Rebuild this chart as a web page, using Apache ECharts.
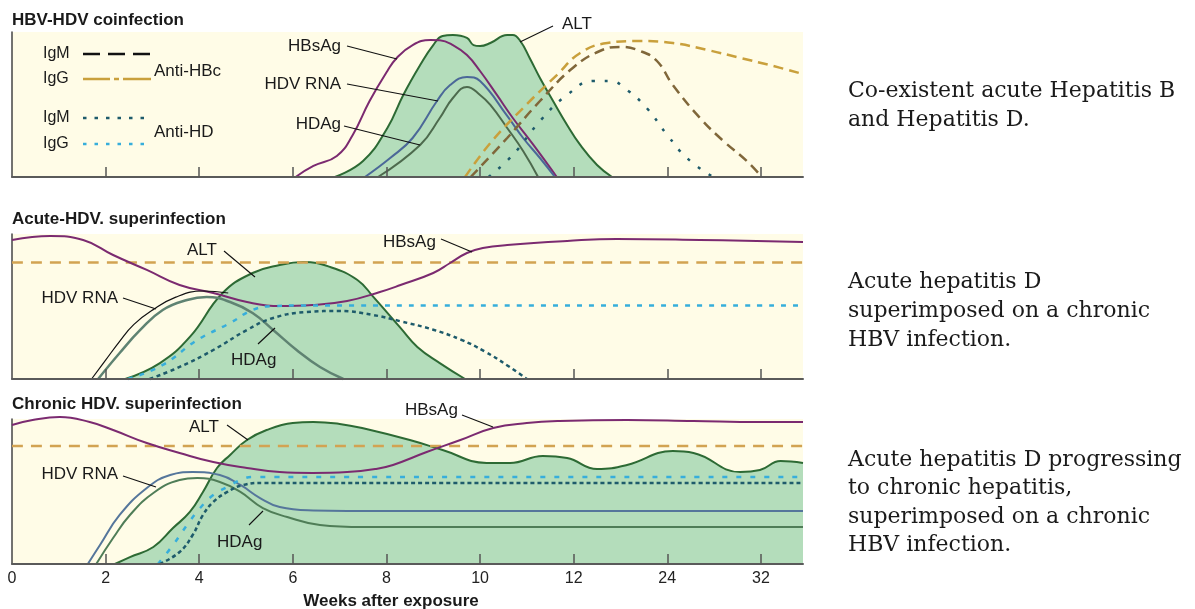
<!DOCTYPE html>
<html>
<head>
<meta charset="utf-8">
<script src="https://cdn.jsdelivr.net/npm/echarts@6/dist/echarts.min.js"></script>
<style>html,body{margin:0;padding:0;background:#fff}#c{width:1195px;height:609px}</style>
</head>
<body>
<div id="c"></div>
<script>
// x values are positions along the axis: one unit per tick label
const xTickLabels = ['0','2','4','6','8','10','12','24','32'];
const xEnd = 8.45;

// Panel 1: HBV-HDV coinfection
const p1ALT = [[3.45,0],[3.75,11],[4.01,33.8],[4.18,56.6],[4.36,77.2],[4.5,91],[4.6,97.2],[4.71,97.9],[4.86,95.9],[4.93,91],[5.0,90.3],[5.11,92.4],[5.29,97.9],[5.35,97.9],[5.43,93.8],[5.53,82.1],[5.64,68.3],[5.78,52.4],[5.93,35.9],[6.07,22.1],[6.25,8.3],[6.41,0]];
const p1HBsAg = [[3.03,0],[3.22,7.6],[3.47,14.5],[3.64,29],[3.82,52.4],[4.01,73.1],[4.11,82.1],[4.28,91],[4.47,94.5],[4.57,94.3],[4.71,91],[4.86,84.1],[5.0,73.1],[5.18,56.6],[5.35,40.7],[5.57,22.1],[5.82,0]];
const p1HDVRNA = [[3.77,0],[4.04,13.1],[4.28,26.9],[4.54,52.4],[4.68,63.4],[4.86,69],[5.0,66.2],[5.29,42.1],[5.46,26.9],[5.64,13.1],[5.8,0]];
const p1HDAg = [[3.91,0],[4.36,22.1],[4.57,40.7],[4.71,54.5],[4.86,62.1],[5.0,56.6],[5.11,49.7],[5.29,33.8],[5.46,17.9],[5.62,0]];
const p1AntiHBcIgG = [[4.84,0],[5.11,23.4],[5.46,47.6],[5.82,70.3],[6.07,85.5],[6.36,92.4],[6.71,93.8],[7.06,92.4],[7.43,87.6],[7.78,82.1],[8.13,76.6],[8.45,71]];
const p1AntiHBcIgM = [[4.9,0],[5.29,26.9],[5.64,52.4],[5.99,75.2],[6.28,86.9],[6.5,89.7],[6.71,86.9],[6.89,80],[7.06,63.4],[7.35,40.7],[7.6,24.8],[7.85,11],[8.01,0]];
const p1AntiHDIgM = [[5.09,0],[5.35,15.2],[5.64,38.6],[5.93,56.6],[6.21,66.2],[6.39,66.2],[6.57,60],[6.78,47.6],[7.0,29],[7.21,13.1],[7.49,0]];

// Panel 2: Acute-HDV superinfection
const p2ALT = [[1.21,0],[1.58,11],[1.9,29],[2.25,59.3],[2.57,73.1],[2.86,78.6],[3.11,80.7],[3.4,77.2],[3.69,68.3],[3.86,56.6],[4.15,35.2],[4.33,22.1],[4.57,11],[4.84,0]];
const p2HBsAg = [[0,95.9],[0.41,98.6],[0.76,95.9],[1.08,85.5],[1.44,75.2],[1.79,64.8],[2.15,59.3],[2.51,53.1],[2.86,50.3],[3.21,51],[3.58,53.8],[3.93,60],[4.15,64.8],[4.5,73.1],[4.68,80],[4.86,86.9],[5.03,90.3],[5.29,92.4],[5.93,95.2],[6.46,96.6],[7.35,95.9],[8.45,94.5]];
const p2HDVRNA = [[0.85,0],[1.0,13],[1.15,26],[1.3,37.5],[1.5,47.5],[1.75,56.5],[2.04,60.7],[2.31,59.3]];
const p2HDAg = [[0.92,0],[1.15,17.9],[1.37,33.8],[1.61,47.6],[1.87,54.5],[2.08,56.6],[2.33,53.1],[2.57,45.5],[2.79,33.8],[3.04,20],[3.29,8.3],[3.54,0]];
const p2AntiHBcIgG = [[0,80.3],[8.45,80.3]];
const p2AntiHDIgG = [[1.24,0],[1.61,9.7],[1.98,26.9],[2.33,38.6],[2.57,47.6],[2.79,50.3],[3.08,50.7],[5,50.7],[8.45,50.7]];
const p2AntiHDIgM = [[1.47,0],[1.79,8.3],[2.15,20],[2.51,33.8],[2.79,42.1],[3.15,46.2],[3.5,46.9],[3.86,44.1],[4.15,39.8],[4.5,34],[4.8,27],[5.05,19],[5.3,9],[5.5,0]];

// Panel 3: Chronic HDV superinfection
const p3ALT = [[1.1,0],[1.26,4.8],[1.51,11.7],[1.72,24.8],[1.9,35.9],[2.04,49.7],[2.19,66.2],[2.33,75.2],[2.51,85.5],[2.72,92.4],[3.0,97.2],[3.22,97.9],[3.5,96.6],[3.74,93.8],[4.25,85.5],[4.6,78.6],[5.07,69.7],[5.32,69.7],[5.67,74.5],[5.93,73.1],[6.25,65.5],[6.57,68.3],[7.06,77.9],[7.28,76.6],[7.78,63.4],[7.99,64.8],[8.21,71],[8.45,69.7]];
const p3HBsAg = [[0,95.9],[0.22,99.3],[0.51,101.4],[0.83,97.9],[1.08,92.4],[1.44,83.4],[1.79,76.6],[2.15,70.3],[2.51,66.2],[2.86,63.4],[3.21,62.8],[3.58,63.4],[3.88,65.5],[4.07,68.3],[4.43,77.2],[4.79,85.5],[5.14,93.8],[5.5,97.2],[5.85,98.6],[6.57,99.3],[7.28,98.6],[7.99,97.9],[8.45,97.9]];
const p3HDVRNA = [[0.81,0],[0.94,13.1],[1.15,33.8],[1.44,52.4],[1.69,61.4],[1.93,63.4],[2.22,61.4],[2.44,54.5],[2.65,45.5],[2.86,39.3],[3.22,36.9],[3.58,36.6],[5.5,36.6],[8.45,36.6]];
const p3HDAg = [[0.9,0],[1.08,17.9],[1.26,33.8],[1.51,49],[1.79,57.9],[1.98,59.3],[2.22,56.6],[2.44,49.7],[2.68,38.6],[2.94,32.4],[3.29,26.9],[3.75,25.5],[5.5,25.5],[8.45,25.5]];
const p3AntiHBcIgG = [[0,81.4],[8.45,81.4]];
const p3AntiHDIgG = [[1.56,0],[1.72,13.1],[1.87,26.9],[2.01,38.6],[2.15,47.6],[2.3,53.1],[2.44,57.9],[2.57,60],[4,60],[8.45,60]];
const p3AntiHDIgM = [[1.58,0],[1.79,8.3],[1.93,20],[2.04,33.8],[2.15,42.8],[2.3,49.7],[2.47,54.5],[2.68,55.9],[4,55.9],[8.45,55.9]];

const C = {
  bg:'#FFFCE7', altFill:'#B4DDBB', altLine:'#2D6A34', purple:'#7B2A70',
  blue:'#4B6898', hdag1:'#4D6A4D', hdag2:'#5F8372', hdag3:'#4F7D57', blue3:'#55769B',
  gold:'#C9A03C', gold2:'#D2A352', brown:'#80673A', teal:'#1E5B6B', lblue:'#37AEDB', text:'#1a1a1a'
};
const SANS = '"Liberation Sans", Arial, sans-serif';
const SERIF = '"DejaVu Serif", serif';

const grids = [
  {left:12, top:32, width:791, height:145},
  {left:12, top:234, width:791, height:145},
  {left:12, top:419, width:791, height:145}
].map(g => Object.assign(g, {show:true, backgroundColor:C.bg, borderWidth:0, containLabel:false}));

const xAxes = [0,1,2].map(i => ({
  type:'value', gridIndex:i, min:0, max:xEnd, interval:1,
  axisLine:{show:true, onZero:false, lineStyle:{color:'#5a5a5a', width:2}},
  axisTick:{show:true, inside:true, length:10, lineStyle:{color:'#555', width:1.5}, customValues:[1,2,3,4,5,6,7,8]},
  axisLabel:{show:i===2, margin:7, fontSize:16, fontFamily:SANS, color:'#222',
    customValues:[0,1,2,3,4,5,6,7,8], formatter:v => xTickLabels[Math.round(v)] || ''},
  splitLine:{show:false}, z:5
}));
const yAxes = [0,1,2].map(i => ({
  type:'value', gridIndex:i, min:0, max:100,
  axisLine:{show:true, lineStyle:{color:'#444', width:1.5}},
  axisTick:{show:false}, axisLabel:{show:false}, splitLine:{show:false}
}));

function ln(grid, data, color, width, type, area) {
  const s = {
    type:'line', xAxisIndex:grid, yAxisIndex:grid, data:data, smooth:0.45,
    symbol:'none', clip:false, silent:true,
    lineStyle:{color:color, width:width, type:type || 'solid'}
  };
  if (area) s.areaStyle = {color:area, opacity:1};
  return s;
}

const series = [
  ln(0, p1ALT, C.altLine, 2, 'solid', C.altFill),
  ln(0, p1HBsAg, C.purple, 2),
  ln(0, p1HDVRNA, C.blue, 2),
  ln(0, p1HDAg, C.hdag1, 2),
  ln(0, p1AntiHBcIgG, C.gold, 2.5, [10,6]),
  ln(0, p1AntiHBcIgM, C.brown, 2.5, [10,6]),
  ln(0, p1AntiHDIgM, C.teal, 2.5, [3,10]),

  ln(1, p2ALT, C.altLine, 2, 'solid', C.altFill),
  ln(1, p2AntiHBcIgG, C.gold2, 2.5, [11,8]),
  ln(1, p2HBsAg, C.purple, 2),
  ln(1, p2HDVRNA, '#111', 1.2),
  ln(1, p2HDAg, C.hdag2, 2.5),
  ln(1, p2AntiHDIgG, C.lblue, 2.5, [5,7]),
  ln(1, p2AntiHDIgM, C.teal, 2.5, [4,3.5]),

  ln(2, p3ALT, C.altLine, 2, 'solid', C.altFill),
  ln(2, p3AntiHBcIgG, C.gold2, 2.5, [11,8]),
  ln(2, p3HBsAg, C.purple, 2),
  ln(2, p3HDVRNA, C.blue3, 2),
  ln(2, p3HDAg, C.hdag3, 2),
  ln(2, p3AntiHDIgG, C.lblue, 2.5, [5,9]),
  ln(2, p3AntiHDIgM, C.teal, 2.5, [4,3])
];

function txt(x, y, s, opt) {
  opt = opt || {};
  return {type:'text', x:x, y:y, z:50, silent:true, style:{
    text:s, font:(opt.bold?'bold ':'') + (opt.size||17) + 'px ' + (opt.family||SANS),
    fill:C.text, align:opt.align||'left', verticalAlign:opt.va||'middle', lineHeight:opt.lh}};
}
function seg(x1, y1, x2, y2, color, w, dash) {
  return {type:'line', z:50, silent:true, shape:{x1:x1,y1:y1,x2:x2,y2:y2},
    style:{stroke:color||'#111', lineWidth:w||1.1, lineDash:dash||null}};
}

const graphic = [
  txt(12, 20, 'HBV-HDV coinfection', {bold:true}),
  txt(12, 219, 'Acute-HDV. superinfection', {bold:true}),
  txt(12, 404, 'Chronic HDV. superinfection', {bold:true}),
  txt(391, 601, 'Weeks after exposure', {bold:true, align:'center'}),

  // legend
  txt(43, 54, 'IgM', {size:16}), seg(83, 54, 150, 54, '#111', 2.5, [17,8]),
  txt(43, 79, 'IgG', {size:16}), seg(83, 79, 151, 79, C.gold, 2.5, [27,4,5,4,28]),
  txt(154, 71, 'Anti-HBc'),
  txt(43, 118, 'IgM', {size:16}), seg(83, 118, 146, 118, C.teal, 2.5, [3.5,8]),
  txt(43, 144, 'IgG', {size:16}), seg(83, 144, 146, 144, C.lblue, 2.5, [3.5,8]),
  txt(154, 132, 'Anti-HD'),

  // panel 1 annotations
  txt(341, 46, 'HBsAg', {align:'right'}), seg(347, 46, 397, 59),
  txt(341, 84, 'HDV RNA', {align:'right'}), seg(347, 84, 438, 101),
  txt(341, 124, 'HDAg', {align:'right'}), seg(344, 126, 420, 145),
  txt(562, 24, 'ALT'), seg(553, 26, 520, 42),

  // panel 2 annotations
  txt(187, 250, 'ALT'), seg(224, 251, 255, 277),
  txt(118, 298, 'HDV RNA', {align:'right'}), seg(123, 298, 156, 309),
  txt(231, 360, 'HDAg'), seg(258, 344, 275, 328),
  txt(383, 242, 'HBsAg'), seg(441, 239, 472, 252),

  // panel 3 annotations
  txt(189, 427, 'ALT'), seg(227, 425, 248, 440),
  txt(118, 474, 'HDV RNA', {align:'right'}), seg(123, 476, 156, 487),
  txt(217, 542, 'HDAg'), seg(249, 525, 263, 511),
  txt(405, 410, 'HBsAg'), seg(462, 415, 493, 427),

  // right-side descriptions
  txt(848, 77, 'Co-existent acute Hepatitis B\nand Hepatitis D.', {size:22, family:SERIF, va:'top', lh:29}),
  txt(848, 268, 'Acute hepatitis D\nsuperimposed on a chronic\nHBV infection.', {size:22, family:SERIF, va:'top', lh:29}),
  txt(848, 446, 'Acute hepatitis D progressing\nto chronic hepatitis,\nsuperimposed on a chronic\nHBV infection.', {size:22, family:SERIF, va:'top', lh:28.5})
];

const chart = echarts.init(document.getElementById('c'), null, {renderer:'canvas'});
chart.setOption({
  animation:false, backgroundColor:'#ffffff',
  grid:grids, xAxis:xAxes, yAxis:yAxes, series:series, graphic:graphic
});
</script>
</body>
</html>
